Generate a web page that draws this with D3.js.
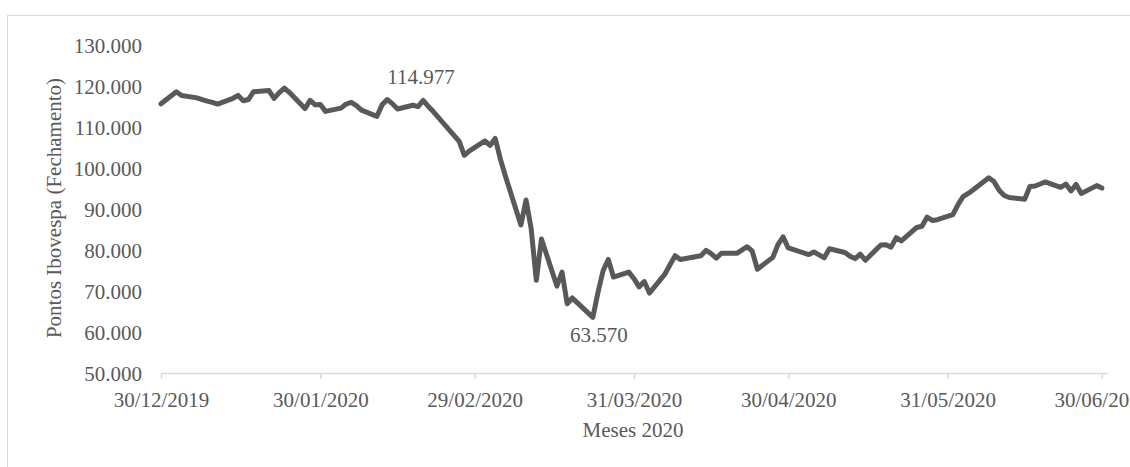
<!DOCTYPE html>
<meta charset="utf-8">
<body style="margin:0;background:white">
  <div id="content"></div>
</body>
<script src="https://cdn.jsdelivr.net/npm/d3@7"></script>
<script>
// closing points of the Ibovespa
var dates = [
  "30/12/2019", "02/01/2020", "03/01/2020", "06/01/2020", "07/01/2020", "08/01/2020", "09/01/2020", "10/01/2020",
  "13/01/2020", "14/01/2020", "15/01/2020", "16/01/2020", "17/01/2020", "20/01/2020", "21/01/2020", "22/01/2020",
  "23/01/2020", "24/01/2020", "27/01/2020", "28/01/2020", "29/01/2020", "30/01/2020", "31/01/2020",
  "03/02/2020", "04/02/2020", "05/02/2020", "06/02/2020", "07/02/2020", "10/02/2020", "11/02/2020", "12/02/2020",
  "13/02/2020", "14/02/2020", "17/02/2020", "18/02/2020", "19/02/2020", "20/02/2020", "21/02/2020",
  "26/02/2020", "27/02/2020", "28/02/2020", "02/03/2020", "03/03/2020", "04/03/2020", "05/03/2020", "06/03/2020",
  "09/03/2020", "10/03/2020", "11/03/2020", "12/03/2020", "13/03/2020", "16/03/2020", "17/03/2020", "18/03/2020",
  "19/03/2020", "20/03/2020", "23/03/2020", "24/03/2020", "25/03/2020", "26/03/2020", "27/03/2020", "30/03/2020",
  "31/03/2020", "01/04/2020", "02/04/2020", "03/04/2020", "06/04/2020", "07/04/2020", "08/04/2020", "09/04/2020",
  "13/04/2020", "14/04/2020", "15/04/2020", "16/04/2020", "17/04/2020", "20/04/2020", "22/04/2020", "23/04/2020",
  "24/04/2020", "27/04/2020", "28/04/2020", "29/04/2020", "30/04/2020", "04/05/2020", "05/05/2020", "06/05/2020",
  "07/05/2020", "08/05/2020", "11/05/2020", "12/05/2020", "13/05/2020", "14/05/2020", "15/05/2020", "18/05/2020",
  "19/05/2020", "20/05/2020", "21/05/2020", "22/05/2020", "25/05/2020", "26/05/2020", "27/05/2020", "28/05/2020",
  "29/05/2020", "01/06/2020", "02/06/2020", "03/06/2020", "04/06/2020", "05/06/2020", "08/06/2020", "09/06/2020",
  "10/06/2020", "11/06/2020", "12/06/2020", "15/06/2020", "16/06/2020", "17/06/2020", "18/06/2020", "19/06/2020",
  "22/06/2020", "23/06/2020", "24/06/2020", "25/06/2020", "26/06/2020", "29/06/2020", "30/06/2020"
];
var closes = [
  115650, 118600, 117700, 117100, 116700, 116300, 116000, 115600,
  117000, 117700, 116400, 116700, 118600, 118900, 117000, 118400,
  119500, 118400, 114500, 116500, 115400, 115500, 113800,
  114600, 115600, 116000, 115200, 114100, 112600, 115400, 116700,
  115700, 114400, 115300, 114977, 116500, 115000, 113700,
  106500, 103100, 104200, 106600, 105500, 107200, 102200, 98000,
  86100, 92200, 85200, 72600, 82700, 71200, 74600, 66900,
  68300, 67100, 63570, 69700, 75000, 77700, 73400, 74600,
  73000, 71000, 72300, 69500, 74100, 76400, 78600, 77700,
  78600, 79900, 79100, 78000, 79200, 79200, 80800, 79700,
  75300, 78200, 81300, 83200, 80500, 78900, 79500, 78800,
  78100, 80300, 79400, 78500, 77900, 79000, 77500, 81200,
  81300, 80700, 83000, 82200, 85500, 85800, 88000, 87200,
  87400, 88600, 91000, 93000, 93800, 94700, 97600, 96700,
  94600, 93300, 92800, 92400, 95500, 95600, 96100, 96600,
  95300, 96100, 94400, 96000, 93800, 95700, 95100
];
var tickDates = ["30/12/2019", "30/01/2020", "29/02/2020", "31/03/2020", "30/04/2020", "31/05/2020", "30/06/2020"];
var yTicks = [50000, 60000, 70000, 80000, 90000, 100000, 110000, 120000, 130000];
var noteDates = ["18/02/2020", "23/03/2020"];
var noteValues = [114977, 63570];

var parse = d3.utcParse("%d/%m/%Y");
var fmtDate = d3.utcFormat("%d/%m/%Y");
var br = d3.formatLocale({ decimal: ",", thousands: ".", grouping: [3], currency: ["R$", ""] });
var fmtNum = br.format(",.0f");

var W = 1130, H = 467;
var font = "'Liberation Serif', 'Times New Roman', serif";
var grey = "#595959";

var x = d3.scaleUtc()
  .domain([parse("30/12/2019"), parse("01/07/2020")])
  .range([161, 1107]);
var y = d3.scaleLinear()
  .domain([50000, 130000])
  .range([373, 45]);

var series = dates.map(function (d, i) { return { date: parse(d), value: closes[i] }; });

var svg = d3.select("#content").append("svg")
  .attr("width", W).attr("height", H)
  .style("display", "block")
  .style("background", "white");

// chart frame
svg.append("rect")
  .attr("x", 7.5).attr("y", 15.5)
  .attr("width", W).attr("height", H)
  .attr("fill", "none").attr("stroke", "#d9d9d9").attr("stroke-width", 1);

// x axis
var xAxis = svg.append("g")
  .attr("transform", "translate(0,373)")
  .call(d3.axisBottom(x).tickValues(tickDates.map(parse)).tickFormat(fmtDate).tickSize(6).tickSizeOuter(0).tickPadding(12));
xAxis.select(".domain").attr("stroke", "#d9d9d9").attr("stroke-width", 1.5);
xAxis.selectAll(".tick line").attr("stroke", "#d9d9d9").attr("stroke-width", 1.5);
xAxis.selectAll(".tick text")
  .attr("fill", grey).attr("font-family", font).attr("font-size", 21)
  .attr("dy", "0.75em");

// y axis labels only
var yAxis = svg.append("g")
  .attr("transform", "translate(142,0)")
  .call(d3.axisLeft(y).tickValues(yTicks).tickFormat(fmtNum).tickSize(0).tickPadding(0));
yAxis.select(".domain").remove();
yAxis.selectAll(".tick text")
  .attr("fill", grey).attr("font-family", font).attr("font-size", 21)
  .attr("dy", "0.34em");

// line
var line = d3.line()
  .x(function (d) { return x(d.date); })
  .y(function (d) { return y(d.value); });

svg.append("path")
  .datum(series)
  .attr("d", line)
  .attr("fill", "none")
  .attr("stroke", grey)
  .attr("stroke-width", 5)
  .attr("stroke-linejoin", "round")
  .attr("stroke-linecap", "round");

// data labels
svg.selectAll(".note")
  .data(noteDates)
  .enter().append("text")
  .attr("class", "note")
  .attr("x", function (d, i) { return x(parse(d)) + (i === 0 ? 3 : 6); })
  .attr("y", function (d, i) { return y(noteValues[i]) + (i === 0 ? -23 : 25); })
  .attr("text-anchor", "middle")
  .attr("fill", grey).attr("font-family", font).attr("font-size", 21)
  .text(function (d, i) { return fmtNum(noteValues[i]); });

// axis titles
svg.append("text")
  .attr("transform", "translate(61,208) rotate(-90)")
  .attr("text-anchor", "middle")
  .attr("fill", grey).attr("font-family", font).attr("font-size", 21)
  .text("Pontos Ibovespa (Fechamento)");

svg.append("text")
  .attr("x", 633).attr("y", 437)
  .attr("text-anchor", "middle")
  .attr("fill", grey).attr("font-family", font).attr("font-size", 21)
  .text("Meses 2020");
</script>
